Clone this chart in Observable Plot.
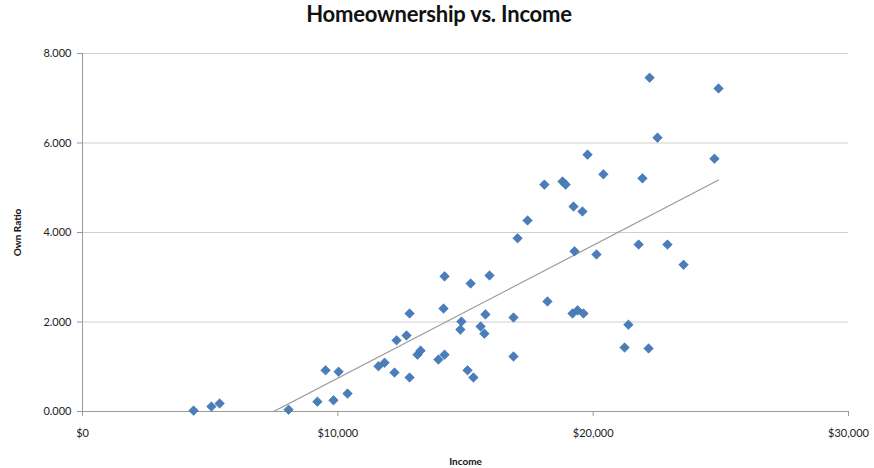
<!DOCTYPE html>
<html><head><meta charset="utf-8">
<script src="https://cdn.jsdelivr.net/npm/d3@7"></script>
<script src="https://cdn.jsdelivr.net/npm/@observablehq/plot@0.6"></script>
<style>
body{margin:0;background:#fff;}
#title{height:40px;line-height:44px;overflow:visible;text-align:center;font:bold 22px Lato, "Open Sans", sans-serif;color:#111;padding-left:4px;letter-spacing:-0.2px;}
</style>
</head><body>
<div id="title">Homeownership vs. Income</div>
<div id="chart"></div>
<script>
const income = [4350,5050,5370,8070,9200,9520,9830,10030,10380,11590,11830,12220,12300,12690,12810,12810,13120,13240,13940,14180,14140,14180,14800,14840,15080,15200,15310,15590,15740,15780,15940,16880,16880,17040,17430,18090,18210,18800,18920,19230,19270,19190,19390,19620,19580,19780,20130,20400,21380,21230,21780,21930,22170,22210,22520,22910,23540,24750,24910];
const ownRatio = [0.02,0.11,0.18,0.04,0.22,0.92,0.25,0.89,0.40,1.01,1.09,0.87,1.59,1.70,2.19,0.76,1.27,1.36,1.16,1.27,2.30,3.02,1.83,2.01,0.92,2.86,0.76,1.90,1.74,2.17,3.04,2.10,1.23,3.87,4.27,5.07,2.46,5.14,5.07,4.58,3.58,2.19,2.26,2.19,4.47,5.74,3.51,5.30,1.94,1.43,3.73,5.21,1.41,7.46,6.12,3.73,3.28,5.65,7.22];
const xTicks = [0,10000,20000,30000];
const yTicks = [0,2,4,6,8];
const xLabel = "Income";
const yLabel = "Own Ratio";

const data = income.map((x,i)=>({income:x, ratio:ownRatio[i]}));

const chart = Plot.plot({
  width:874, height:428,
  marginTop:13, marginBottom:57, marginLeft:82, marginRight:26,
  style:{fontFamily:"Lato, 'Open Sans', sans-serif", fontSize:"11px", color:"#222", background:"#fff"},
  x:{domain:[0,30000]},
  y:{domain:[0,8]},
  marks:[
    Plot.gridY(yTicks.filter(v=>v>0), {stroke:"#cfcfcf", strokeOpacity:1}),
    Plot.ruleY([0], {stroke:"#9a9a9a"}),
    Plot.ruleX([0], {stroke:"#9a9a9a"}),
    Plot.axisY({ticks:yTicks, tickFormat:d=>d.toFixed(3), tickSize:5, tickPadding:6, stroke:"#9a9a9a", label:null}),
    Plot.axisX({ticks:xTicks, tickFormat:d=>"$"+d3.format(",")(d), tickSize:5, tickPadding:13, stroke:"#9a9a9a", label:null}),
    Plot.text([xLabel], {frameAnchor:"bottom", lineAnchor:"middle", dy:50, fontWeight:"bold", fontSize:10, fill:"#111"}),
    Plot.text([yLabel], {frameAnchor:"left", textAnchor:"middle", dx:-65, rotate:-90, fontWeight:"bold", fontSize:10, fill:"#111"}),
    Plot.linearRegressionY(data, {x:"income", y:"ratio", stroke:"#9a9a9a", strokeWidth:1.2, ci:0, clip:true}),
    Plot.dot(data, {x:"income", y:"ratio", symbol:"diamond2", r:4.3, fill:"#4a7ebb", stroke:"#3e6daa", strokeWidth:0.6})
  ]
});
document.getElementById("chart").appendChild(chart);
</script>
</body></html>
